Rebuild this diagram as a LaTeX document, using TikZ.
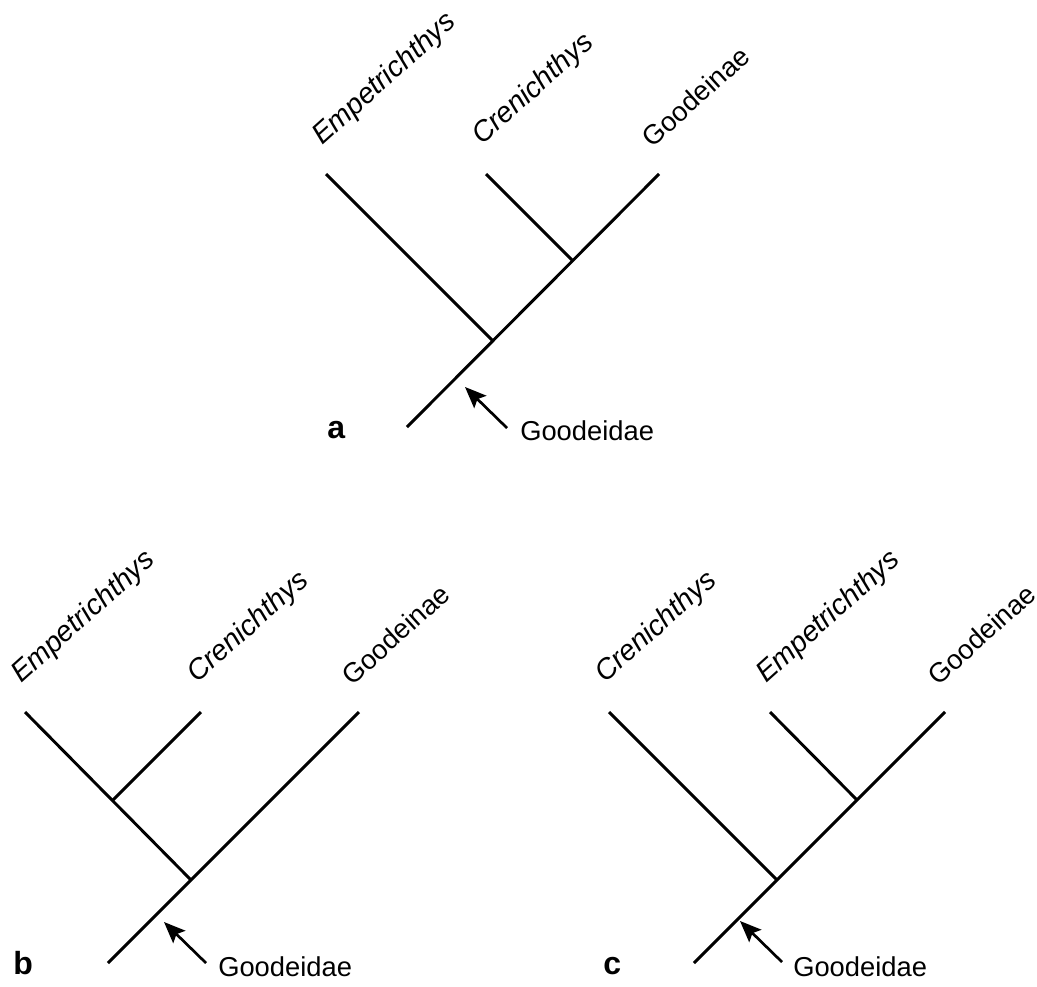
\documentclass[tikz,border=0pt]{standalone}
\usepackage{fontspec}
\setmainfont{Liberation Sans}
\usetikzlibrary{arrows.meta}

\tikzset{
  branch/.style={line width=2.2pt, line cap=butt},
  taxon/.style={anchor=base west, inner sep=0pt, xshift=-3pt, yshift=21pt, rotate=42,
    font=\fontsize{21.5}{25}\selectfont},
  subfam/.style={taxon, xshift=-3pt, font=\fontsize{20.5}{24}\selectfont},
  clade/.style={anchor=base west, inner sep=0pt, font=\fontsize{20.5}{24}\selectfont},
  panel/.style={anchor=base west, inner sep=0pt, font=\fontsize{24}{28}\selectfont\bfseries},
  pointer/.style={line width=2pt, -{Stealth[length=16pt, width=13pt, inset=3pt]}}
}

\begin{document}
\begin{tikzpicture}[x=0.75pt, y=-0.75pt]
\useasboundingbox (0,0) rectangle (1037,986);

% tree a
\coordinate (rootA) at (407,427);
\coordinate (jA1) at (493,341);
\coordinate (jA2) at (573,261);
\coordinate (empA) at (326,174);
\coordinate (creA) at (486,174);
\coordinate (goodA) at (659,174);

\draw[branch] (rootA) -- (goodA);
\draw[branch] (jA1) -- (empA);
\draw[branch] (jA2) -- (creA);

\node[taxon] (tEmpA) at (empA) {\itshape Empetrichthys};
\node[taxon] (tCreA) at (creA) {\itshape Crenichthys};
\node[subfam] (tGoodA) at (goodA) {Goodeinae};

\node[panel] (labA) at (327,438) {a};
\coordinate (tailA) at (507,428);
\coordinate (headA) at (465,387);
\draw[pointer] (tailA) -- (headA);
\node[clade] (famA) at (520,440) {Goodeidae};

% tree b
\coordinate (rootB) at (108,963);
\coordinate (jB1) at (191,880);
\coordinate (jB2) at (113,800);
\coordinate (empB) at (25,712);
\coordinate (creB) at (201,712);
\coordinate (goodB) at (359,712);

\draw[branch] (rootB) -- (goodB);
\draw[branch] (jB1) -- (empB);
\draw[branch] (jB2) -- (creB);

\node[taxon] (tEmpB) at (empB) {\itshape Empetrichthys};
\node[taxon] (tCreB) at (creB) {\itshape Crenichthys};
\node[subfam] (tGoodB) at (goodB) {Goodeinae};

\node[panel] (labB) at (13,974) {b};
\coordinate (tailB) at (206,963);
\coordinate (headB) at (164,922);
\draw[pointer] (tailB) -- (headB);
\node[clade] (famB) at (218,976) {Goodeidae};

% tree c
\coordinate (rootC) at (694,963);
\coordinate (jC1) at (777,880);
\coordinate (jC2) at (857,800);
\coordinate (creC) at (609,712);
\coordinate (empC) at (770,712);
\coordinate (goodC) at (945,712);

\draw[branch] (rootC) -- (goodC);
\draw[branch] (jC1) -- (creC);
\draw[branch] (jC2) -- (empC);

\node[taxon] (tCreC) at (creC) {\itshape Crenichthys};
\node[taxon] (tEmpC) at (empC) {\itshape Empetrichthys};
\node[subfam] (tGoodC) at (goodC) {Goodeinae};

\node[panel] (labC) at (603,974) {c};
\coordinate (tailC) at (782,962);
\coordinate (headC) at (740,921);
\draw[pointer] (tailC) -- (headC);
\node[clade] (famC) at (793,976) {Goodeidae};

\end{tikzpicture}
\end{document}
